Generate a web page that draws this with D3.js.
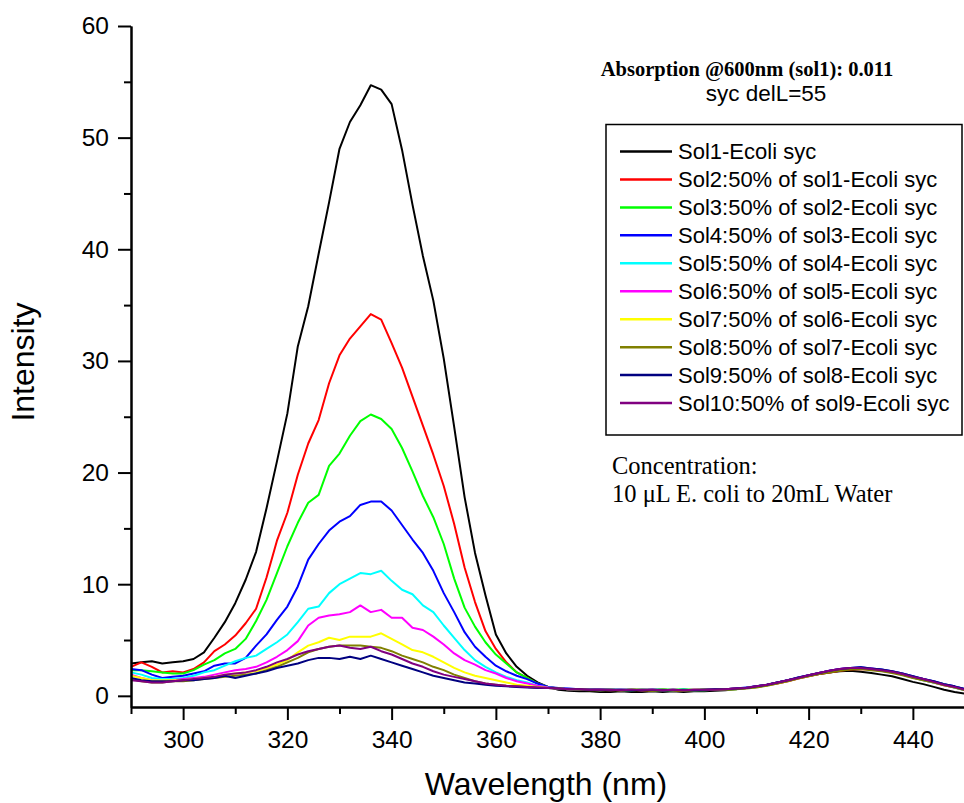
<!DOCTYPE html>
<html>
<head>
<meta charset="utf-8">
<script src="https://cdn.jsdelivr.net/npm/d3@7/dist/d3.min.js"></script>
<style>
  html, body { margin: 0; padding: 0; background: #fff; }
  svg { display: block; }
</style>
</head>
<body>
<svg id="chart" width="964" height="803"></svg>
<script>
// ---------------- DATA ----------------
const wavelengths = [290,292,294,296,298,300,302,304,306,308,310,312,314,316,318,320,322,324,326,328,330,332,334,336,338,340,342,344,346,348,350,352,354,356,358,360,362,364,366,368,370,
  372,374,376,378,380,382,384,386,388,390,392,394,396,398,400,402,404,406,408,410,412,414,416,418,420,422,424,426,428,430,432,434,436,438,440,442,444,446,448,450];

const seriesNames = [
  "Sol1-Ecoli syc",
  "Sol2:50% of sol1-Ecoli syc",
  "Sol3:50% of sol2-Ecoli syc",
  "Sol4:50% of sol3-Ecoli syc",
  "Sol5:50% of sol4-Ecoli syc",
  "Sol6:50% of sol5-Ecoli syc",
  "Sol7:50% of sol6-Ecoli syc",
  "Sol8:50% of sol7-Ecoli syc",
  "Sol9:50% of sol8-Ecoli syc",
  "Sol10:50% of sol9-Ecoli syc"
];

const sol1 = [2.9,3.0,3.1,2.9,3.0,3.1,3.3,3.9,5.2,6.6,8.3,10.4,12.9,16.8,21.0,25.3,31.3,34.9,39.6,44.2,49.0,51.4,52.9,54.7,54.3,53.0,48.9,44.0,39.4,35.4,30.2,24.1,17.8,12.8,9.0,5.5,3.8,2.6,1.8,1.2,0.8,
  0.55,0.45,0.4,0.4,0.35,0.35,0.4,0.35,0.35,0.4,0.35,0.4,0.35,0.4,0.4,0.45,0.5,0.6,0.7,0.85,1.0,1.2,1.4,1.6,1.8,1.95,2.1,2.2,2.25,2.15,2.05,1.9,1.75,1.5,1.25,1.05,0.8,0.55,0.35,0.2];
const sol2 = [2.6,3.0,2.6,2.1,2.2,2.1,2.4,3.0,4.0,4.6,5.4,6.5,7.8,10.6,13.9,16.4,19.8,22.6,24.7,28.0,30.5,32.0,33.1,34.2,33.7,31.6,29.4,26.8,24.2,21.6,18.8,15.4,11.5,8.4,5.8,4.2,3.0,2.1,1.6,1.1,0.8,
  0.65,0.6,0.6,0.55,0.5,0.55,0.5,0.55,0.5,0.5,0.55,0.5,0.5,0.55,0.55,0.55,0.6,0.65,0.7,0.8,0.95,1.1,1.3,1.55,1.75,1.95,2.1,2.25,2.35,2.4,2.35,2.25,2.1,1.9,1.65,1.4,1.2,0.95,0.75,0.5];
const sol3 = [2.3,2.3,2.2,2.1,2.0,2.0,2.3,2.8,3.2,3.8,4.2,5.1,6.7,8.6,11.0,13.4,15.5,17.3,18.0,20.6,21.7,23.3,24.6,25.2,24.8,23.9,22.2,20.1,17.9,16.0,13.6,10.5,7.9,6.2,4.8,3.7,2.9,2.1,1.6,1.1,0.8,
  0.65,0.6,0.6,0.6,0.55,0.55,0.55,0.6,0.55,0.55,0.6,0.55,0.6,0.55,0.6,0.6,0.6,0.65,0.7,0.85,1.0,1.15,1.4,1.6,1.85,2.05,2.2,2.35,2.45,2.45,2.4,2.3,2.15,1.95,1.7,1.5,1.25,1.05,0.8,0.55];
const sol4 = [2.4,2.3,1.9,1.6,1.7,1.8,2.0,2.2,2.7,2.9,2.9,3.4,4.5,5.5,6.8,8.0,9.8,12.2,13.6,14.8,15.6,16.1,17.1,17.4,17.4,16.6,15.3,14.0,12.8,11.2,9.2,7.5,5.7,4.4,3.5,2.7,2.2,1.8,1.5,1.1,0.8,
  0.7,0.65,0.6,0.6,0.6,0.55,0.55,0.55,0.5,0.55,0.55,0.5,0.55,0.5,0.55,0.6,0.6,0.65,0.75,0.85,1.0,1.2,1.4,1.65,1.85,2.05,2.25,2.4,2.5,2.55,2.45,2.35,2.2,2.0,1.75,1.5,1.3,1.05,0.85,0.6];
const sol5 = [2.1,1.9,1.6,1.5,1.5,1.6,1.8,2.1,2.3,2.7,3.1,3.4,3.6,4.2,4.8,5.5,6.6,7.8,8.0,9.2,10.0,10.5,11.0,10.9,11.2,10.3,9.5,9.1,8.1,7.5,6.3,5.2,4.1,3.2,2.6,2.1,1.7,1.4,1.2,0.9,0.75,
  0.65,0.6,0.55,0.55,0.5,0.55,0.5,0.5,0.55,0.5,0.5,0.5,0.55,0.5,0.5,0.55,0.6,0.6,0.7,0.8,0.95,1.15,1.35,1.6,1.8,2.0,2.2,2.35,2.45,2.45,2.4,2.25,2.1,1.9,1.65,1.4,1.2,1.0,0.75,0.5];
const sol6 = [1.9,1.6,1.4,1.3,1.4,1.5,1.6,1.7,1.9,2.1,2.3,2.4,2.6,3.0,3.5,4.1,4.9,6.3,7.0,7.2,7.3,7.5,8.1,7.5,7.7,7.0,7.0,6.1,5.9,5.3,4.6,3.8,3.2,2.8,2.3,2.0,1.6,1.3,1.1,0.9,0.75,
  0.65,0.6,0.6,0.55,0.55,0.5,0.55,0.55,0.5,0.55,0.5,0.55,0.5,0.55,0.55,0.6,0.6,0.65,0.7,0.85,1.0,1.15,1.4,1.6,1.85,2.05,2.25,2.4,2.5,2.5,2.45,2.3,2.15,1.95,1.7,1.5,1.25,1.0,0.8,0.55];
const sol7 = [1.8,1.6,1.4,1.4,1.4,1.4,1.5,1.6,1.7,1.9,2.0,2.1,2.2,2.5,2.8,3.2,3.9,4.5,4.8,5.2,5.0,5.3,5.3,5.3,5.6,5.1,4.6,4.1,3.9,3.5,3.0,2.5,2.1,1.8,1.6,1.4,1.2,1.0,0.9,0.8,0.7,
  0.65,0.6,0.6,0.55,0.55,0.55,0.5,0.55,0.55,0.5,0.55,0.5,0.5,0.5,0.55,0.55,0.6,0.6,0.7,0.8,0.95,1.15,1.35,1.6,1.8,2.0,2.2,2.35,2.45,2.5,2.4,2.3,2.15,1.95,1.7,1.45,1.25,1.0,0.8,0.55];
const sol8 = [1.5,1.3,1.2,1.2,1.3,1.3,1.4,1.5,1.6,1.7,1.8,1.9,2.0,2.3,2.6,3.0,3.4,3.9,4.2,4.4,4.5,4.5,4.5,4.4,4.3,4.0,3.6,3.3,3.0,2.6,2.3,1.9,1.6,1.3,1.1,1.0,0.9,0.85,0.8,0.75,0.7,
  0.65,0.6,0.55,0.5,0.5,0.5,0.5,0.5,0.5,0.45,0.5,0.5,0.45,0.5,0.5,0.55,0.55,0.6,0.65,0.75,0.9,1.1,1.3,1.55,1.75,1.95,2.1,2.25,2.35,2.4,2.3,2.2,2.05,1.85,1.6,1.4,1.2,0.95,0.75,0.5];
const sol9 = [1.6,1.4,1.3,1.3,1.3,1.4,1.4,1.5,1.6,1.8,1.6,1.8,2.0,2.2,2.5,2.7,2.9,3.2,3.4,3.4,3.3,3.5,3.3,3.6,3.3,3.0,2.7,2.4,2.1,1.8,1.6,1.4,1.2,1.1,1.0,0.9,0.85,0.8,0.75,0.7,0.7,
  0.65,0.6,0.6,0.55,0.55,0.55,0.55,0.5,0.55,0.55,0.5,0.55,0.5,0.5,0.55,0.6,0.6,0.65,0.7,0.85,1.0,1.2,1.4,1.65,1.85,2.05,2.25,2.4,2.5,2.55,2.45,2.35,2.2,2.0,1.75,1.5,1.3,1.05,0.85,0.6];
const sol10 = [1.4,1.3,1.2,1.2,1.3,1.4,1.5,1.6,1.7,1.9,2.0,2.1,2.3,2.6,3.0,3.3,3.7,4.0,4.2,4.4,4.5,4.3,4.2,4.4,4.0,3.7,3.3,2.9,2.6,2.2,1.9,1.7,1.5,1.3,1.1,1.0,0.9,0.85,0.8,0.75,0.7,
  0.65,0.6,0.6,0.55,0.55,0.55,0.5,0.55,0.55,0.55,0.5,0.55,0.5,0.55,0.55,0.55,0.6,0.65,0.7,0.85,1.0,1.2,1.4,1.6,1.85,2.05,2.25,2.4,2.5,2.5,2.4,2.3,2.15,1.95,1.7,1.5,1.25,1.0,0.8,0.55];

const seriesValues = [sol1, sol2, sol3, sol4, sol5, sol6, sol7, sol8, sol9, sol10];
const seriesColors = ["#000000","#ff0000","#00ff00","#0000ff","#00ffff","#ff00ff","#ffff00","#808000","#000080","#800080"];

const xMajorTicks = [300,320,340,360,380,400,420,440];
const xMinorTicks = [290,310,330,350,370,390,410,430,450];
const yMajorTicks = [0,10,20,30,40,50,60];
const yMinorTicks = [5,15,25,35,45,55];

const annotationTitle = "Absorption @600nm (sol1): 0.011";
const annotationSub = "syc delL=55";
const concLines = ["Concentration:", "10 \u03BCL E. coli to 20mL Water"];

// ---------------- CHART ----------------
(function () {
const svg = d3.select("#chart");
const pLeft = 131, pRight = 965, pTop = 26, pBottom = 707;

const x = d3.scaleLinear().domain([290, 450]).range([pLeft, pRight]);
const y = d3.scaleLinear().domain([-1, 60]).range([pBottom, pTop]);

const fontSans = "'Liberation Sans', Arial, sans-serif";
const fontSerif = "'Liberation Serif', 'Times New Roman', serif";

const line = d3.line()
  .x(d => x(d[0]))
  .y(d => y(d[1]));

const plot = svg.append("g");
seriesValues.forEach((vals, i) => {
  const pts = wavelengths.map((w, j) => [w, vals[j]]).filter(p => p[1] !== undefined);
  plot.append("path")
    .datum(pts)
    .attr("fill", "none")
    .attr("stroke", seriesColors[i])
    .attr("stroke-width", 2)
    .attr("stroke-linejoin", "round")
    .attr("d", line);
});

function styleAxis(g) {
  g.selectAll("path.domain").attr("stroke", "#000").attr("stroke-width", 2);
  g.selectAll(".tick line").attr("stroke", "#000").attr("stroke-width", 2);
  g.selectAll(".tick text").attr("fill", "#000").style("font-family", fontSans).style("font-size", "24.5px");
}

const yAxisMinor = svg.append("g").attr("transform", `translate(${pLeft},0)`)
  .call(d3.axisLeft(y).tickValues(yMinorTicks).tickSize(7).tickSizeOuter(0).tickFormat(""));
styleAxis(yAxisMinor);
const yAxis = svg.append("g").attr("transform", `translate(${pLeft},0)`)
  .call(d3.axisLeft(y).tickValues(yMajorTicks).tickSize(13).tickSizeOuter(0).tickPadding(9).tickFormat(d3.format("d")));
styleAxis(yAxis);

const xAxisMinor = svg.append("g").attr("transform", `translate(0,${pBottom})`)
  .call(d3.axisBottom(x).tickValues(xMinorTicks).tickSize(7).tickSizeOuter(0).tickFormat(""));
styleAxis(xAxisMinor);
const xAxis = svg.append("g").attr("transform", `translate(0,${pBottom})`)
  .call(d3.axisBottom(x).tickValues(xMajorTicks).tickSize(13).tickSizeOuter(0).tickPadding(11).tickFormat(d3.format("d")));
styleAxis(xAxis);

svg.append("text")
  .attr("x", 546).attr("y", 795)
  .attr("text-anchor", "middle")
  .style("font-family", fontSans).style("font-size", "32px")
  .text("Wavelength (nm)");

svg.append("text")
  .attr("transform", "translate(34,362) rotate(-90)")
  .attr("text-anchor", "middle")
  .style("font-family", fontSans).style("font-size", "32px")
  .text("Intensity");

svg.append("text")
  .attr("x", 747).attr("y", 76)
  .attr("text-anchor", "middle")
  .style("font-family", fontSerif).style("font-weight", "bold").style("font-size", "20.5px")
  .text(annotationTitle);
svg.append("text")
  .attr("x", 766).attr("y", 101)
  .attr("text-anchor", "middle")
  .style("font-family", fontSans).style("font-size", "22.5px")
  .text(annotationSub);

const legend = svg.append("g");
legend.append("rect")
  .attr("x", 606).attr("y", 124.5).attr("width", 356).attr("height", 310.5)
  .attr("fill", "#fff").attr("stroke", "#000").attr("stroke-width", 1.5);
seriesNames.forEach((name, i) => {
  const cy = 151.5 + i * 27.95;
  legend.append("line")
    .attr("x1", 620).attr("x2", 672).attr("y1", cy).attr("y2", cy)
    .attr("stroke", seriesColors[i]).attr("stroke-width", 2.5);
  legend.append("text")
    .attr("x", 678).attr("y", cy + 7.8)
    .style("font-family", fontSans).style("font-size", "22px")
    .text(name);
});

concLines.forEach((t, i) => {
  svg.append("text")
    .attr("x", 612).attr("y", 474 + i * 27.5)
    .style("font-family", fontSerif).style("font-size", "24.5px")
    .text(t);
});
})();
</script>
</body>
</html>
